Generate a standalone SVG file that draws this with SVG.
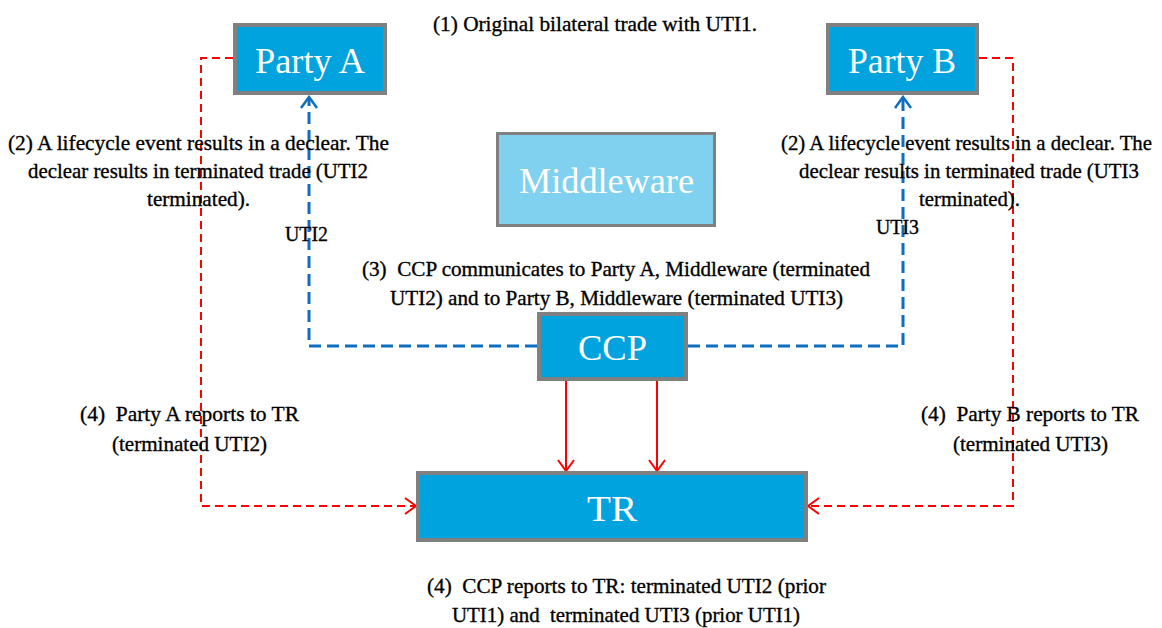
<svg xmlns="http://www.w3.org/2000/svg" width="1162" height="628" viewBox="0 0 1162 628">
<style>
.node{fill:#00A3DD;stroke:#808080;stroke-width:4}
.mw{fill:#80D1F0;stroke:#808080;stroke-width:3}
.nl{font-family:"Liberation Serif","Times New Roman",serif;font-size:36px;fill:#FFFFFF;text-anchor:middle}
.t{font-family:"Liberation Serif","Times New Roman",serif;font-size:22px;fill:#000000;stroke:#000000;stroke-width:0.35;text-anchor:middle}
.bd{fill:none;stroke:#0E6FC0;stroke-width:3;stroke-dasharray:12 6}
.rd{fill:none;stroke:#FF0000;stroke-width:2;stroke-dasharray:8 5}
.rs{fill:none;stroke:#FF0000;stroke-width:2}
</style>
<defs>
<marker id="ab" markerUnits="userSpaceOnUse" markerWidth="14" markerHeight="18" refX="12" refY="9" orient="auto">
<path d="M1,1 L12,9 L1,17" fill="none" stroke="#0E6FC0" stroke-width="2.5"/>
</marker>
<marker id="ar" markerUnits="userSpaceOnUse" markerWidth="14" markerHeight="18" refX="12" refY="9" orient="auto">
<path d="M1,1 L12,9 L1,17" fill="none" stroke="#FF0000" stroke-width="2"/>
</marker>
</defs>
<g id="connectors">
<path class="bd" d="M537,346 H309 V97" marker-end="url(#ab)"/>
<path class="bd" d="M688,346 H903 V97" marker-end="url(#ab)"/>
<path class="rd" d="M233,58 H201 V506 H416" marker-end="url(#ar)"/>
<path class="rd" d="M979,58 H1013 V506 H808" marker-end="url(#ar)"/>
<path class="rs" d="M566,381 V471" marker-end="url(#ar)"/>
<path class="rs" d="M657,381 V471" marker-end="url(#ar)"/>
</g>
<g id="partyA">
<rect class="node" x="235" y="25" width="150" height="68"/>
<text class="nl" x="310" y="73" textLength="110" lengthAdjust="spacingAndGlyphs">Party A</text>
</g>
<g id="partyB">
<rect class="node" x="828" y="25" width="149" height="68"/>
<text class="nl" x="902" y="73" textLength="108" lengthAdjust="spacingAndGlyphs">Party B</text>
</g>
<g id="middleware">
<rect class="mw" x="497.5" y="133.5" width="217" height="92"/>
<text class="nl" x="606.5" y="193" textLength="175" lengthAdjust="spacingAndGlyphs">Middleware</text>
</g>
<g id="ccp">
<rect class="node" x="539" y="314" width="147" height="65"/>
<text class="nl" x="612.5" y="360" textLength="69" lengthAdjust="spacingAndGlyphs">CCP</text>
</g>
<g id="tr">
<rect class="node" x="418" y="473" width="388" height="67"/>
<text class="nl" x="612" y="521" textLength="50" lengthAdjust="spacingAndGlyphs">TR</text>
</g>
<g id="labels">
<text class="t" x="595" y="31" textLength="324" lengthAdjust="spacingAndGlyphs">(1) Original bilateral trade with UTI1.</text>
<text class="t" x="198.5" y="150" textLength="381" lengthAdjust="spacingAndGlyphs">(2) A lifecycle event results in a declear. The</text>
<text class="t" x="198" y="178" textLength="340" lengthAdjust="spacingAndGlyphs">declear results in terminated trade (UTI2</text>
<text class="t" x="198.5" y="206" textLength="103" lengthAdjust="spacingAndGlyphs">terminated).</text>
<text class="t" x="966.5" y="150" textLength="371" lengthAdjust="spacingAndGlyphs">(2) A lifecycle event results in a declear. The</text>
<text class="t" x="969" y="178" textLength="340" lengthAdjust="spacingAndGlyphs">declear results in terminated trade (UTI3</text>
<text class="t" x="969.5" y="206" textLength="101" lengthAdjust="spacingAndGlyphs">terminated).</text>
<text class="t" x="306.5" y="241" textLength="43" lengthAdjust="spacingAndGlyphs">UTI2</text>
<text class="t" x="897.5" y="234" textLength="43" lengthAdjust="spacingAndGlyphs">UTI3</text>
<text class="t" x="616" y="276" xml:space="preserve" textLength="508" lengthAdjust="spacingAndGlyphs">(3)  CCP communicates to Party A, Middleware (terminated</text>
<text class="t" x="616.5" y="305" textLength="453" lengthAdjust="spacingAndGlyphs">UTI2) and to Party B, Middleware (terminated UTI3)</text>
<text class="t" x="189.5" y="421" xml:space="preserve" textLength="219" lengthAdjust="spacingAndGlyphs">(4)  Party A reports to TR</text>
<text class="t" x="189.5" y="451" textLength="155" lengthAdjust="spacingAndGlyphs">(terminated UTI2)</text>
<text class="t" x="1030" y="421" xml:space="preserve" textLength="218" lengthAdjust="spacingAndGlyphs">(4)  Party B reports to TR</text>
<text class="t" x="1030.5" y="451" textLength="155" lengthAdjust="spacingAndGlyphs">(terminated UTI3)</text>
<text class="t" x="626.5" y="593" xml:space="preserve" textLength="399" lengthAdjust="spacingAndGlyphs">(4)  CCP reports to TR: terminated UTI2 (prior</text>
<text class="t" x="626" y="622" xml:space="preserve" textLength="348" lengthAdjust="spacingAndGlyphs">UTI1) and  terminated UTI3 (prior UTI1)</text>
</g>
</svg>
